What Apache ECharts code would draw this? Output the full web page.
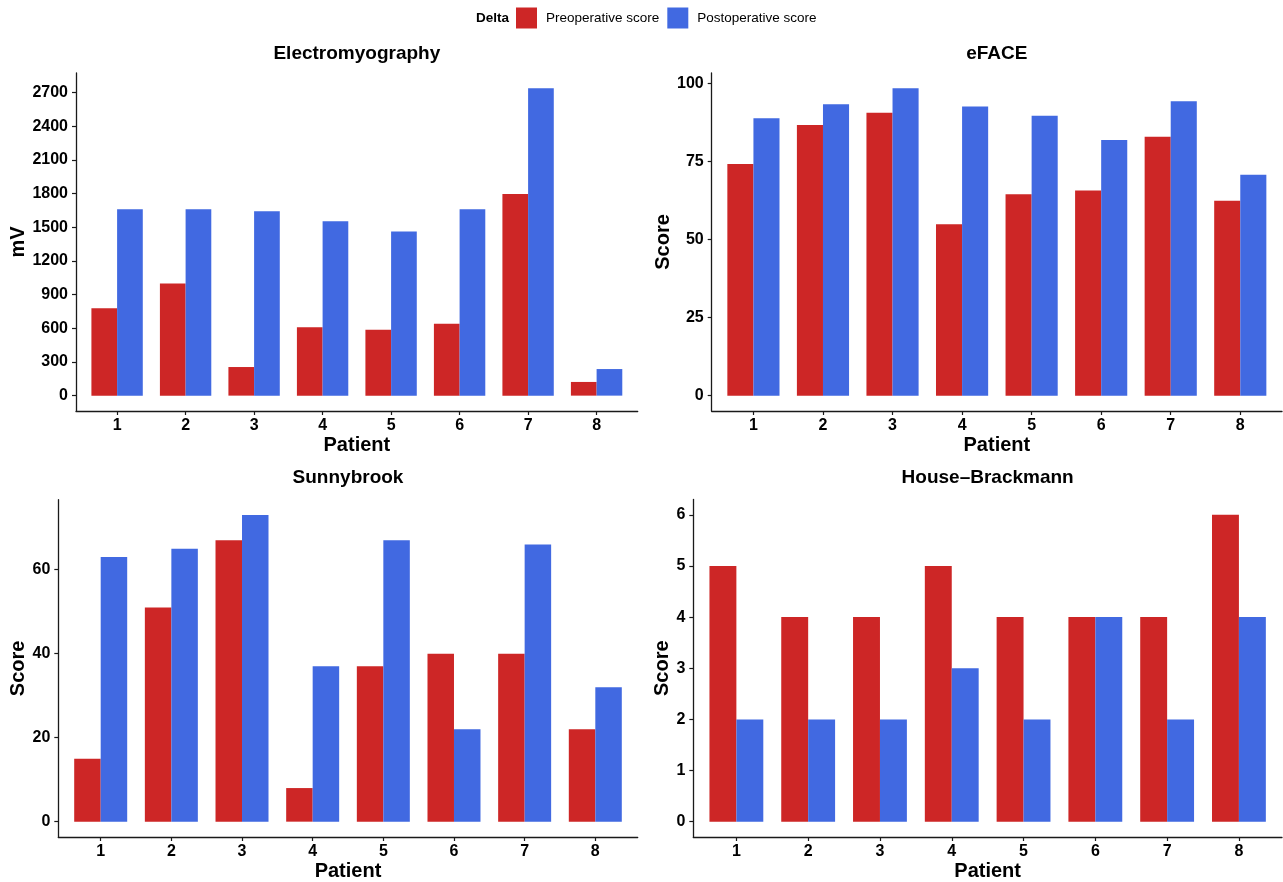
<!DOCTYPE html>
<html>
<head>
<meta charset="utf-8">
<script src="https://cdn.jsdelivr.net/npm/echarts@6/dist/echarts.min.js"></script>
<style>
html,body{margin:0;padding:0;background:#fff;}
#chart{width:1283px;height:882px;}
</style>
</head>
<body>
<div id="chart"></div>
<script>
// ---- data ----
const patients = [1, 2, 3, 4, 5, 6, 7, 8];
const seriesNames = ['Preoperative score', 'Postoperative score'];
const panelTitles = ['Electromyography', 'eFACE', 'Sunnybrook', 'House\u2013Brackmann'];
const yNames = ['mV', 'Score', 'Score', 'Score'];

const emgPre  = [780, 1000, 255, 610, 587, 641, 1798, 122];
const emgPost = [1662, 1662, 1644, 1555, 1463, 1662, 2739, 237];
const efacePre  = [74.2, 86.7, 90.6, 54.9, 64.5, 65.7, 82.9, 62.4];
const efacePost = [88.8, 93.3, 98.4, 92.6, 89.6, 81.9, 94.3, 70.7];
const sbPre  = [15, 51, 67, 8, 37, 40, 40, 22];
const sbPost = [63, 65, 73, 37, 67, 22, 66, 32];
const hbPre  = [5, 4, 4, 5, 4, 4, 4, 6];
const hbPost = [2, 2, 2, 3, 2, 4, 2, 4];

const emgTicks = [0, 300, 600, 900, 1200, 1500, 1800, 2100, 2400, 2700];
const efaceTicks = [0, 25, 50, 75, 100];
const sbTicks = [0, 20, 40, 60];
const hbTicks = [0, 1, 2, 3, 4, 5, 6];

// ---- styling / layout ----
const RED = '#CD2626';
const BLUE = '#4169E1';
const FONT = '"Liberation Sans", Arial, Helvetica, sans-serif';
const AX = '#1a1a1a';

const panels = [
  {pre: emgPre, post: emgPost, ticks: emgTicks, grid: {left: 76, top: 73, width: 561.7, height: 338}, nameGap: 40},
  {pre: efacePre, post: efacePost, ticks: efaceTicks, grid: {left: 711.7, top: 73, width: 570.3, height: 338}, nameGap: 35},
  {pre: sbPre, post: sbPost, ticks: sbTicks, grid: {left: 58.3, top: 499.7, width: 579.4, height: 338}, nameGap: 24},
  {pre: hbPre, post: hbPost, ticks: hbTicks, grid: {left: 693.3, top: 499.5, width: 588.7, height: 338.2}, nameGap: 16}
];

const grids = [], xAxes = [], yAxes = [], series = [], titles = [];
panels.forEach((p, i) => {
  grids.push(Object.assign({containLabel: false}, p.grid));
  const dmax = Math.max(...p.pre, ...p.post);
  xAxes.push({
    type: 'value', gridIndex: i, min: 0.4, max: 8.6,
    name: 'Patient', nameLocation: 'middle', nameGap: 24,
    nameTextStyle: {fontFamily: FONT, fontWeight: 'bold', fontSize: 20, color: '#000'},
    axisLine: {show: true, onZero: false, lineStyle: {color: AX, width: 1.3}},
    axisTick: {show: true, length: 4, lineStyle: {color: AX, width: 1.2}, customValues: patients},
    axisLabel: {show: true, margin: 7, fontFamily: FONT, fontWeight: 'bold', fontSize: 16, color: '#000',
                customValues: patients, formatter: v => String(v)},
    splitLine: {show: false}
  });
  yAxes.push({
    type: 'value', gridIndex: i, min: -0.05 * dmax, max: 1.05 * dmax,
    name: yNames[i], nameLocation: 'middle', nameGap: p.nameGap,
    nameTextStyle: {fontFamily: FONT, fontWeight: 'bold', fontSize: 20, color: '#000'},
    axisLine: {show: true, onZero: false, lineStyle: {color: AX, width: 1.3}},
    axisTick: {show: true, length: 4, lineStyle: {color: AX, width: 1.2}, customValues: p.ticks},
    axisLabel: {show: true, margin: 8, fontFamily: FONT, fontWeight: 'bold', fontSize: 16, color: '#000',
                customValues: p.ticks, formatter: v => String(v)},
    splitLine: {show: false}
  });
  [p.pre, p.post].forEach((vals, k) => {
    series.push({
      type: 'bar', name: seriesNames[k], xAxisIndex: i, yAxisIndex: i,
      data: patients.map((pt, j) => [pt, vals[j]]),
      barGap: '0%', barCategoryGap: '25%',
      itemStyle: {color: k === 0 ? RED : BLUE},
      emphasis: {disabled: true},
      animation: false
    });
  });
  titles.push({
    text: panelTitles[i],
    left: p.grid.left + p.grid.width / 2,
    top: i < 2 ? 54 : 478,
    textAlign: 'center', textVerticalAlign: 'middle', padding: 0,
    textStyle: {fontFamily: FONT, fontWeight: 'bold', fontSize: 19, color: '#000'}
  });
});
titles.push({
  text: 'Delta', left: 476, top: 18, textAlign: 'left', textVerticalAlign: 'middle', padding: 0,
  textStyle: {fontFamily: FONT, fontWeight: 'bold', fontSize: 13.5, color: '#000'}
});

const chart = echarts.init(document.getElementById('chart'), null, {renderer: 'canvas'});
chart.setOption({
  backgroundColor: '#ffffff',
  animation: false,
  title: titles,
  legend: {
    data: seriesNames.map(n => ({name: n, icon: 'rect'})),
    left: 516, top: 7.5, padding: 0,
    itemWidth: 21, itemHeight: 21, itemGap: 8,
    selectedMode: false,
    textStyle: {fontFamily: FONT, fontSize: 13.5, color: '#000', padding: [0, 0, 0, 4]}
  },
  grid: grids,
  xAxis: xAxes,
  yAxis: yAxes,
  series: series
});
</script>
</body>
</html>
